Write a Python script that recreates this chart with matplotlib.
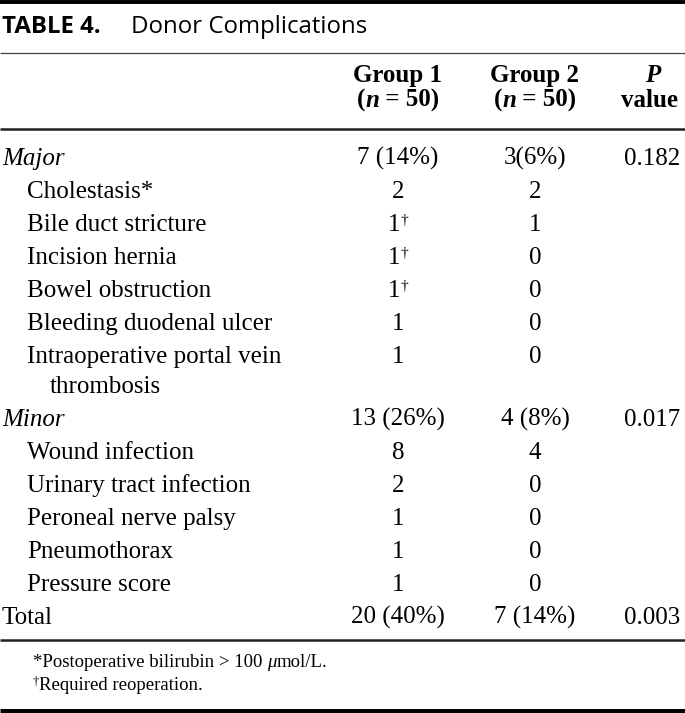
import matplotlib
matplotlib.use("Agg")
import matplotlib.pyplot as plt

# ---- data ----
title_bold = "TABLE 4."
title_rest = "Donor Complications"
group_headers = ["Group 1", "Group 2"]
group_n = ["50", "50"]
p_header = ("P", "value")

row_labels = ["Major", "Cholestasis*", "Bile duct stricture", "Incision hernia",
              "Bowel obstruction", "Bleeding duodenal ulcer",
              "Intraoperative portal vein\nthrombosis",
              "Minor", "Wound infection", "Urinary tract infection",
              "Peroneal nerve palsy", "Pneumothorax", "Pressure score", "Total"]
row_indent = [0, 1, 1, 1, 1, 1, 1, 0, 1, 1, 1, 1, 1, 0]
row_italic = [True, False, False, False, False, False, False,
              True, False, False, False, False, False, False]
group1 = ["7 (14%)", "2", "1", "1", "1", "1", "1",
          "13 (26%)", "8", "2", "1", "1", "1", "20 (40%)"]
group1_dagger = [False, False, True, True, True, False, False,
                 False, False, False, False, False, False, False]
group2 = ["3(6%)", "2", "1", "0", "0", "0", "0",
          "4 (8%)", "4", "0", "0", "0", "0", "7 (14%)"]
pvalues = ["0.182", "", "", "", "", "", "",
           "0.017", "", "", "", "", "", "0.003"]

# ---- layout ----
W, H = 685, 713
fig = plt.figure(figsize=(W / 100, H / 100), dpi=100)
ax = fig.add_axes([0, 0, 1, 1])
ax.set_xlim(0, W)
ax.set_ylim(H, 0)
ax.axis("off")
renderer = fig.canvas.get_renderer()

serif = "Liberation Serif"
sans = "Open Sans"
fs = 18
ffs = 13.5


def width_px(t):
    bb = t.get_window_extent(renderer=renderer)
    return bb.width


def runs(x, y, parts, ha="left"):
    """parts: list of (text, kwargs, dy) drawn side by side."""
    objs = []
    for txt, kw, dy in parts:
        o = ax.text(0, y + dy, txt, va="baseline", ha="left", **kw)
        objs.append(o)
    widths = [width_px(o) for o in objs]
    total = sum(widths)
    if ha == "center":
        x0 = x - total / 2
    elif ha == "right":
        x0 = x - total
    else:
        x0 = x
    for o, w in zip(objs, widths):
        o.set_x(x0)
        x0 += w


# rules
ax.plot([0, W], [1.8, 1.8], color="black", lw=2.8, solid_capstyle="butt")
ax.plot([0, W], [53, 53], color="#444444", lw=0.9, solid_capstyle="butt")
ax.plot([0, W], [129, 129], color="#222222", lw=1.8, solid_capstyle="butt")
ax.plot([0, W], [640, 640], color="#222222", lw=1.8, solid_capstyle="butt")
ax.plot([0, W], [710.5, 710.5], color="black", lw=3.6, solid_capstyle="butt")

# title
ax.text(2, 33, title_bold, fontfamily=sans, fontweight="bold", fontsize=17.3,
        va="baseline", ha="left")
ax.text(131, 33, title_rest, fontfamily=sans, fontsize=17.3, va="baseline", ha="left")

# column headers
c1, c2, c3r = 398, 535, 680
bold = dict(fontfamily=serif, fontweight="bold", fontsize=fs)
bold_it = dict(fontfamily=serif, fontweight="bold", style="italic", fontsize=fs)
for cx, gh, gn in zip([c1, c2], group_headers, group_n):
    ax.text(cx, 82, gh, ha="center", va="baseline", **bold)
    runs(cx, 107, [("(", bold, 0), ("n", bold_it, 0), (" = " + gn + ")", bold, 0)], ha="center")
ax.text(653, 82, p_header[0], ha="center", va="baseline", **bold_it)
ax.text(c3r - 2, 107, p_header[1], ha="right", va="baseline", **bold)

# rows
reg = dict(fontfamily=serif, fontsize=fs)
sup = dict(fontfamily=serif, fontsize=11)
y = 165
step = 33
for i, lab in enumerate(row_labels):
    x = 2 if row_indent[i] == 0 else 27
    lines = lab.split("\n")
    ax.text(x, y, lines[0], style="italic" if row_italic[i] else "normal",
            va="baseline", ha="left", **reg)
    for k, extra in enumerate(lines[1:]):
        ax.text(x + 23, y + 30 * (k + 1), extra, va="baseline", ha="left", **reg)
    if group1_dagger[i]:
        runs(c1, y, [(group1[i], reg, 0), ("\u2020", sup, -7)], ha="center")
    else:
        ax.text(c1, y, group1[i], ha="center", va="baseline", **reg)
    ax.text(c2, y, group2[i], ha="center", va="baseline", **reg)
    if pvalues[i]:
        ax.text(c3r, y, pvalues[i], ha="right", va="baseline", **reg)
    y += step + 30 * (len(lines) - 1)

# footnotes
fn = dict(fontfamily=serif, fontsize=ffs)
fn_it = dict(fontfamily=serif, fontsize=ffs, style="italic")
fn_sup = dict(fontfamily=serif, fontsize=9)
runs(33, 667, [("*Postoperative bilirubin > 100 ", fn, 0), ("\u03bc", fn_it, 0),
               ("mol/L.", fn, 0)])
runs(33, 690, [("\u2020", fn_sup, -6), ("Required reoperation.", fn, 0)])

fig.savefig("out.png", dpi=100)
